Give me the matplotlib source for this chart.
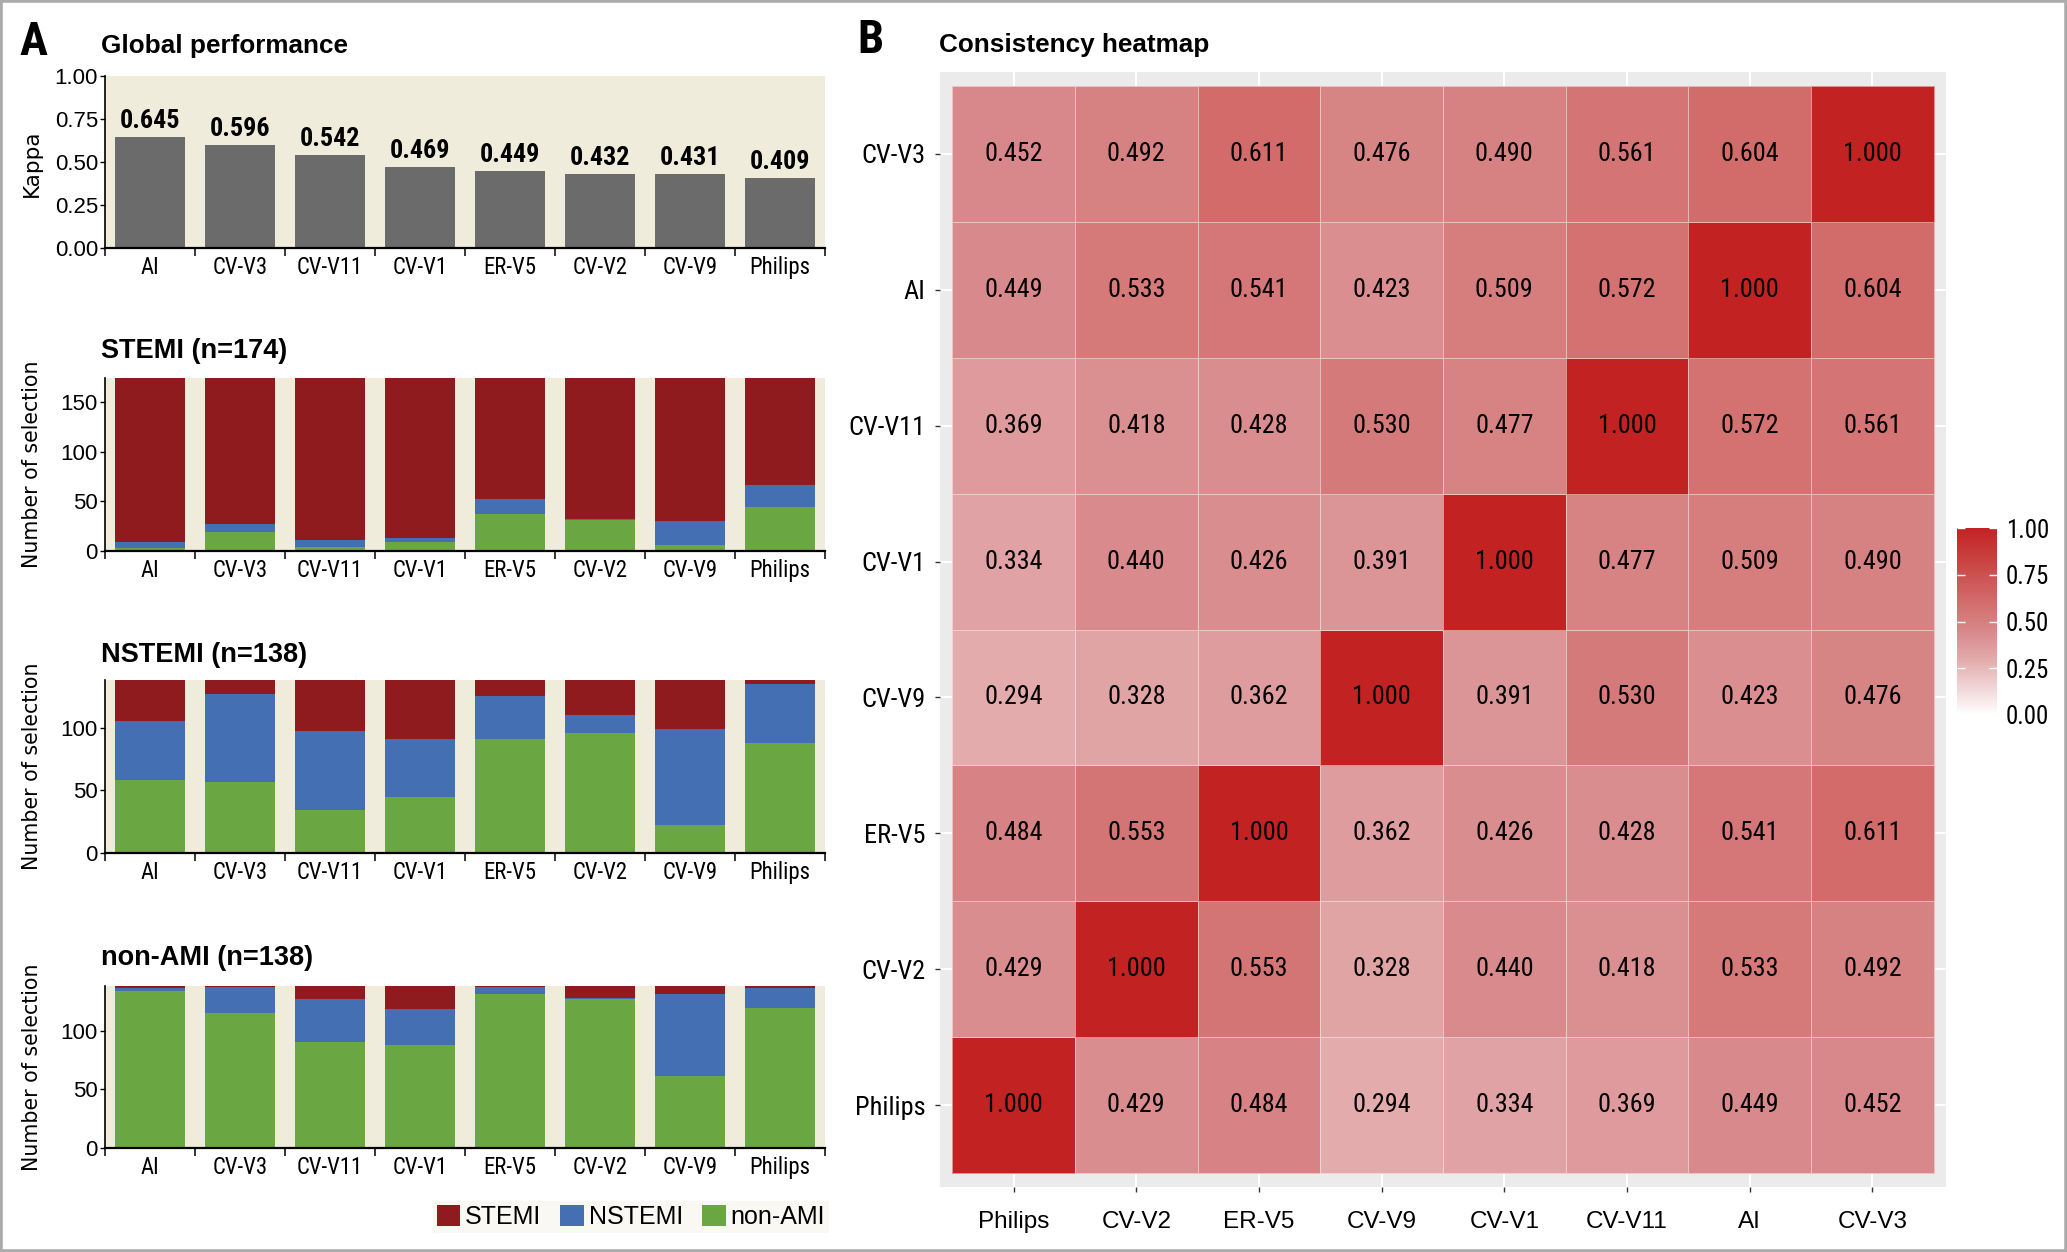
import numpy as np
import matplotlib
matplotlib.use("Agg")
import matplotlib.pyplot as plt
from matplotlib.colors import LinearSegmentedColormap
from matplotlib.patches import Rectangle
from matplotlib.font_manager import FontProperties, fontManager
from matplotlib.textpath import TextPath

# ---------------- data ----------------
methods = ["AI", "CV-V3", "CV-V11", "CV-V1", "ER-V5", "CV-V2", "CV-V9", "Philips"]
kappa = [0.645, 0.596, 0.542, 0.469, 0.449, 0.432, 0.431, 0.409]

# predicted class counts for true STEMI patients (n=174)
stemi_true_pred_nonami = [3, 19, 4, 9, 37, 31, 6, 44]
stemi_true_pred_nstemi = [6, 8, 7, 4, 15, 1, 24, 22]
stemi_true_pred_stemi = [165, 147, 163, 161, 122, 142, 144, 108]

# predicted class counts for true NSTEMI patients (n=138)
nstemi_true_pred_nonami = [58, 57, 34, 45, 91, 96, 22, 88]
nstemi_true_pred_nstemi = [47, 70, 63, 46, 34, 14, 77, 47]
nstemi_true_pred_stemi = [33, 11, 41, 47, 13, 28, 39, 3]

# predicted class counts for true non-AMI patients (n=138)
nonami_true_pred_nonami = [134, 115, 90, 88, 131, 127, 61, 119]
nonami_true_pred_nstemi = [2, 22, 37, 30, 6, 1, 70, 17]
nonami_true_pred_stemi = [2, 1, 11, 20, 1, 10, 7, 2]

panel_titles = ["STEMI (n=174)", "NSTEMI (n=138)", "non-AMI (n=138)"]
panel_n = [174, 138, 138]
class_labels = ["STEMI", "NSTEMI", "non-AMI"]

# consistency heatmap (order from bottom/left)
hm_order = ["Philips", "CV-V2", "ER-V5", "CV-V9", "CV-V1", "CV-V11", "AI", "CV-V3"]
hm_philips = [1.000, 0.429, 0.484, 0.294, 0.334, 0.369, 0.449, 0.452]
hm_cvv2 = [0.429, 1.000, 0.553, 0.328, 0.440, 0.418, 0.533, 0.492]
hm_erv5 = [0.484, 0.553, 1.000, 0.362, 0.426, 0.428, 0.541, 0.611]
hm_cvv9 = [0.294, 0.328, 0.362, 1.000, 0.391, 0.530, 0.423, 0.476]
hm_cvv1 = [0.334, 0.440, 0.426, 0.391, 1.000, 0.477, 0.509, 0.490]
hm_cvv11 = [0.369, 0.418, 0.428, 0.530, 0.477, 1.000, 0.572, 0.561]
hm_ai = [0.449, 0.533, 0.541, 0.423, 0.509, 0.572, 1.000, 0.604]
hm_cvv3 = [0.452, 0.492, 0.611, 0.476, 0.490, 0.561, 0.604, 1.000]
cbar_ticks = [0.0, 0.25, 0.5, 0.75, 1.0]

# ---------------- fonts ----------------
W, H = 2067, 1252
DPI = 100


def pick_narrow():
    names = {f.name for f in fontManager.ttflist}
    for n in ["Liberation Sans Narrow", "Roboto Condensed", "DejaVu Sans Condensed",
              "Noto Sans Condensed", "Open Sans Condensed", "Arial Narrow",
              "Nimbus Sans Narrow"]:
        if n in names:
            return n, "normal"
    cands = [f for f in fontManager.ttflist
             if str(f.stretch) in ("condensed", "semi-condensed")
             and f.style == "normal"]
    for pref in ["Roboto", "DejaVu Sans", "Noto Sans", "Open Sans", "Liberation Sans"]:
        for f in cands:
            if f.name == pref:
                return f.name, str(f.stretch)
    return "Liberation Sans", "normal"


NARROW_NAME, NARROW_STRETCH = pick_narrow()
NARROW = [NARROW_NAME, "DejaVu Sans"]
ARIAL = ["Liberation Sans", "DejaVu Sans"]


def fit_size(s, target_px, weight="normal", family=None, stretch=None):
    family = family or NARROW_NAME
    stretch = stretch or NARROW_STRETCH
    fp = FontProperties(family=family, weight=weight, stretch=stretch, size=100)
    w = TextPath((0, 0), s, prop=fp).get_extents().width
    return target_px * 72.0 * 100.0 / (DPI * w)


SZ_XTICK = min(fit_size("CV-V11", 61), 17.5)
SZ_CELL = min(fit_size("0.452", 56), 20)
SZ_HM_Y = min(fit_size("CV-V3", 61), 19)
SZ_CBAR = min(fit_size("1.00", 40), 19)
SZ_KAPPA = min(fit_size("0.645", 58, weight="bold"), 22)
SZ_AB = min(fit_size("A", 27, weight="bold"), 35)

C_STEMI = "#8F1B1E"
C_NSTEMI = "#4470B3"
C_NONAMI = "#6AA742"
C_KAPPA = "#6B6B6B"
C_PANEL = "#F0ECDC"

fig = plt.figure(figsize=(W / DPI, H / DPI), dpi=DPI)
fig.patch.set_facecolor("white")


def add_ax(x0, y0, x1, y1):
    return fig.add_axes([x0 / W, 1 - y1 / H, (x1 - x0) / W, (y1 - y0) / H])


def fx(x):
    return x / W


def fy(y):
    return 1 - y / H


def narrow(lab, size, weight="normal"):
    lab.set_family(NARROW)
    lab.set_stretch(NARROW_STRETCH)
    lab.set_fontsize(size)
    lab.set_fontweight(weight)


def style_bar_axis(ax, ymax, yticks, fmt):
    ax.set_facecolor(C_PANEL)
    ax.set_xlim(-0.5, len(methods) - 0.5)
    ax.set_ylim(0, ymax)
    for s in ["top", "right"]:
        ax.spines[s].set_visible(False)
    ax.spines["left"].set_linewidth(1.2)
    ax.spines["bottom"].set_linewidth(1.6)
    ax.set_xticks(np.arange(len(methods)))
    ax.set_xticklabels(methods)
    ax.set_xticks(np.arange(len(methods) + 1) - 0.5, minor=True)
    ax.tick_params(axis="x", which="major", length=0, pad=6)
    ax.tick_params(axis="x", which="minor", length=5.8, width=1.1, color="black")
    for lab in ax.get_xticklabels():
        narrow(lab, SZ_XTICK)
    ax.set_yticks(yticks)
    ax.set_yticklabels([fmt.format(v) for v in yticks])
    ax.tick_params(axis="y", length=3.6, width=1.0, pad=1.5, color="black")
    for lab in ax.get_yticklabels():
        lab.set_family(ARIAL)
        lab.set_fontsize(16)


x = np.arange(len(methods))
BW = 0.78

# ---- Global performance ----
ax0 = add_ax(105, 76, 825, 248)
ax0.bar(x, kappa, width=BW, color=C_KAPPA, linewidth=0)
style_bar_axis(ax0, 1.0, [0, 0.25, 0.5, 0.75, 1.0], "{:.2f}")
for xi, v in zip(x, kappa):
    ax0.annotate(f"{v:.3f}", (xi, v), xytext=(0, 6.5), textcoords="offset points",
                 ha="center", va="baseline", fontsize=SZ_KAPPA, fontweight="bold",
                 family=NARROW, fontstretch=NARROW_STRETCH)
fig.text(fx(32), fy(163), "Kappa", rotation=90, ha="center", va="center",
         fontsize=15.5, family="DejaVu Sans")

# ---- stacked panels ----
panel_data = [
    (stemi_true_pred_nonami, stemi_true_pred_nstemi, stemi_true_pred_stemi),
    (nstemi_true_pred_nonami, nstemi_true_pred_nstemi, nstemi_true_pred_stemi),
    (nonami_true_pred_nonami, nonami_true_pred_nstemi, nonami_true_pred_stemi),
]
panel_boxes = [(378, 551), (680, 853), (986, 1148)]
title_base = [358, 662, 965]
panel_yticks = [[0, 50, 100, 150], [0, 50, 100], [0, 50, 100]]
handles = None
for (nonami, nstemi, stemi), (y0, y1), tb, title, n, yt in zip(
        panel_data, panel_boxes, title_base, panel_titles, panel_n, panel_yticks):
    ax = add_ax(105, y0, 825, y1)
    nonami = np.array(nonami)
    nstemi = np.array(nstemi)
    stemi = np.array(stemi)
    b1 = ax.bar(x, nonami, width=BW, color=C_NONAMI, linewidth=0)
    b2 = ax.bar(x, nstemi, bottom=nonami, width=BW, color=C_NSTEMI, linewidth=0)
    b3 = ax.bar(x, stemi, bottom=nonami + nstemi, width=BW, color=C_STEMI, linewidth=0)
    style_bar_axis(ax, n, yt, "{:d}")
    fig.text(fx(101), fy(tb), title, ha="left", va="baseline", fontsize=19.5,
             fontweight="bold", family=ARIAL)
    fig.text(fx(32), fy((y0 + y1) / 2), "Number of selection", rotation=90,
             ha="center", va="center", fontsize=14.8, family="DejaVu Sans")
    handles = [b3, b2, b1]

leg = fig.legend(handles, class_labels, loc="lower right",
                 bbox_to_anchor=(fx(829), fy(1233)), ncol=3,
                 prop={"family": ARIAL, "size": 18},
                 handlelength=0.95, handleheight=0.95, handletextpad=0.2,
                 columnspacing=0.75, borderpad=0.15, borderaxespad=0,
                 frameon=True, fancybox=False)
leg.get_frame().set_facecolor("#F8F7F0")
leg.get_frame().set_edgecolor("none")

fig.text(fx(19), fy(55), "A", ha="left", va="baseline", fontsize=SZ_AB,
         fontweight="bold", family=NARROW, fontstretch=NARROW_STRETCH)
fig.text(fx(101), fy(53), "Global performance", ha="left", va="baseline",
         fontsize=18.8, fontweight="bold", family=ARIAL)

# ---- heatmap ----
fig.text(fx(857), fy(53), "B", ha="left", va="baseline", fontsize=SZ_AB,
         fontweight="bold", family=NARROW, fontstretch=NARROW_STRETCH)
fig.text(fx(939), fy(52), "Consistency heatmap", ha="left", va="baseline",
         fontsize=18.8, fontweight="bold", family=ARIAL)

M = np.array([hm_philips, hm_cvv2, hm_erv5, hm_cvv9, hm_cvv1, hm_cvv11, hm_ai, hm_cvv3])
cmap = LinearSegmentedColormap.from_list(
    "wr",
    [(0.0, (1, 1, 1)),
     (0.29, (227 / 255, 172 / 255, 173 / 255)),
     (0.45, (216 / 255, 136 / 255, 138 / 255)),
     (0.61, (210 / 255, 107 / 255, 106 / 255)),
     (1.0, (195 / 255, 34 / 255, 34 / 255))])

hax = add_ax(940, 72, 1946, 1187)
hax.set_facecolor("#EBEBEB")
nn = len(hm_order)
edges = np.arange(nn + 1) - 0.5
mesh = hax.pcolormesh(edges, edges, M, cmap=cmap, vmin=0, vmax=1,
                      edgecolors=(1, 1, 1, 0.5), linewidth=0.7)
for i in range(nn):
    for j in range(nn):
        hax.text(j, i, f"{M[i, j]:.3f}", ha="center", va="center",
                 fontsize=SZ_CELL, family=NARROW, fontstretch=NARROW_STRETCH,
                 color="black")
hax.set_xlim(-0.6, nn - 0.4)
hax.set_ylim(-0.6, nn - 0.4)
hax.set_xticks(np.arange(nn))
hax.set_yticks(np.arange(nn))
hax.set_xticklabels(hm_order)
hax.set_yticklabels(hm_order)
hax.set_axisbelow(True)
hax.grid(True, color="white", linewidth=1.5)
for s in hax.spines.values():
    s.set_visible(False)
hax.tick_params(axis="x", length=3.6, width=1.0, color="#333333", pad=14)
hax.tick_params(axis="y", length=3.6, width=1.0, color="#333333", pad=7)
for lab in hax.get_xticklabels():
    lab.set_family(ARIAL)
    lab.set_fontsize(17.5)
for lab in hax.get_yticklabels():
    narrow(lab, SZ_HM_Y)

cax = add_ax(1957, 528, 1997, 715)
cb = fig.colorbar(mesh, cax=cax)
cb.outline.set_visible(False)
cb.set_ticks(cbar_ticks)
cb.set_ticklabels([f"{t:.2f}" for t in cbar_ticks])
cax.tick_params(direction="in", length=5.8, width=1.0, color="white",
                left=True, right=True, labelleft=False, labelright=True, pad=6.5)
for lab in cax.get_yticklabels():
    narrow(lab, SZ_CBAR)

# outer frame
fig.patches.append(Rectangle((0, 0), 1, 1, transform=fig.transFigure, fill=False,
                             edgecolor="#ABABAB", linewidth=4, zorder=10))

fig.savefig("out.png", dpi=DPI)
